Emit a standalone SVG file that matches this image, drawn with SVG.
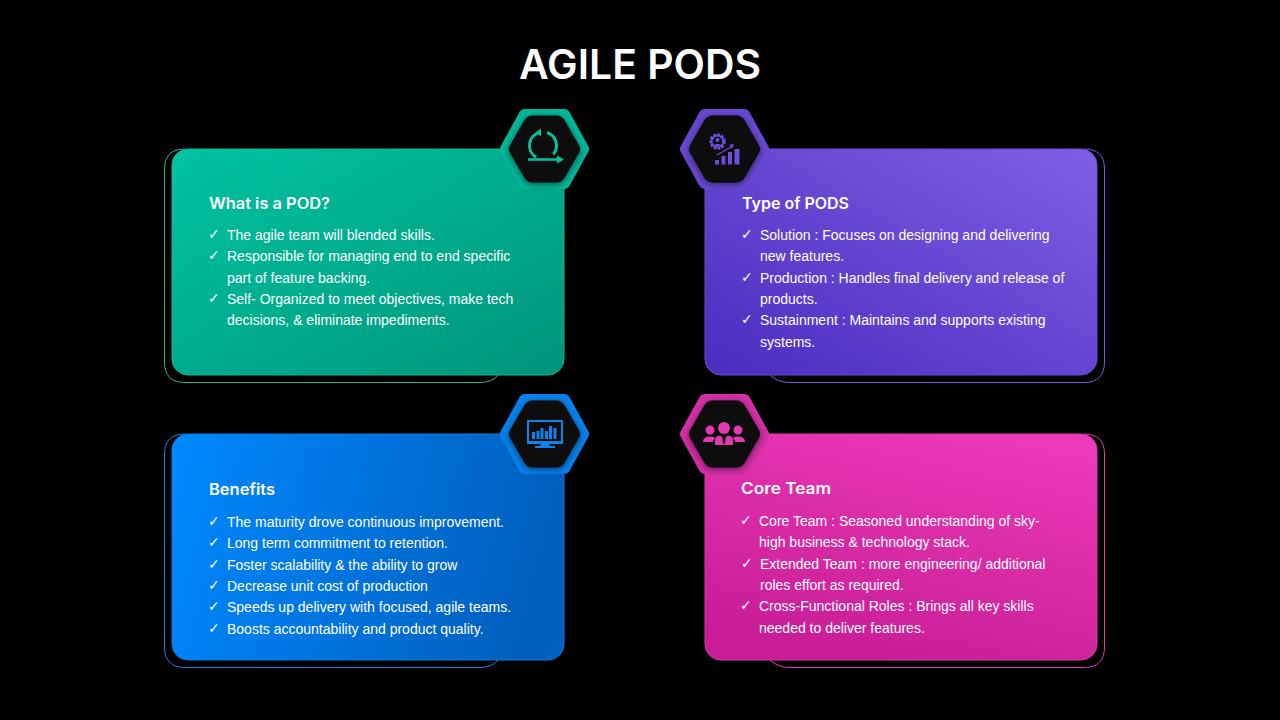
<svg xmlns="http://www.w3.org/2000/svg" width="1280" height="720" viewBox="0 0 1280 720">
<defs>
<linearGradient id="gG" x1="0" y1="0" x2="1" y2="1"><stop offset="0" stop-color="#00c4a0"/><stop offset="1" stop-color="#00957a"/></linearGradient>
<linearGradient id="gP" x1="1" y1="0" x2="0" y2="1"><stop offset="0" stop-color="#7f5fe4"/><stop offset="1" stop-color="#4a2cc0"/></linearGradient>
<linearGradient id="gB" x1="0" y1="0" x2="1" y2="0.15"><stop offset="0" stop-color="#0089ff"/><stop offset="1" stop-color="#005fbe"/></linearGradient>
<linearGradient id="gK" x1="0.8" y1="0" x2="0.4" y2="1"><stop offset="0" stop-color="#ec3ab8"/><stop offset="1" stop-color="#c81d96"/></linearGradient>
<filter id="glow" x="-30%" y="-30%" width="160%" height="160%"><feDropShadow dx="0" dy="2" stdDeviation="3.500" flood-color="#000" flood-opacity="0.5"/></filter>
<path id="hexO" d="M-20,-34.500 H20 L39,0 L20,34.500 H-20 L-39,0 Z" stroke-width="11" stroke-linejoin="round"/>
<path id="hexI" d="M-20,-29 Q-17,-33.500 -12,-33.500 H12 Q17,-33.500 20,-29 L35,-3 Q36.500,0 35,3 L20,29 Q17,33.500 12,33.500 H-12 Q-17,33.500 -20,29 L-35,3 Q-36.500,0 -35,-3 Z"/>
</defs>
<style>
text{font-family:"Liberation Sans",Arial,sans-serif;fill:#fff}
.title{font-family:Inter,"Open Sans",sans-serif;font-size:41px;font-weight:600;text-anchor:middle}
.h{font-family:Inter,"Open Sans",sans-serif;font-size:15.500px;font-weight:600}
.b{font-size:14px}
.c{font-family:"DejaVu Sans",sans-serif;font-size:14px}
.card{stroke-width:1}
.out{fill:none;stroke-width:1}
.hi{fill:#0d0d0d}
</style>
<rect width="1280" height="720" fill="#000"/>
<text class="title" x="640" y="79" textLength="242" lengthAdjust="spacingAndGlyphs">AGILE PODS</text>

<g id="node-pod">
<path class="out" stroke="#26b598" d="M498,375 Q492,382.500 480,382.500 H185 Q164.500,382.500 164.500,362 V169 Q164.500,149 185,149"/>
<rect class="card" x="172" y="149" width="392" height="226" rx="16" fill="url(#gG)" stroke="#12b795"/>
<g transform="translate(544.500,149)"><use href="#hexO" fill="#00b899" stroke="#00b899"/><use href="#hexI" class="hi" filter="url(#glow)"/></g>
<g fill="none" stroke="#00c4a0" stroke-width="3">
<path d="M540.700,132.200 A13.500,13.500 0 0 0 536.200,157.200"/><path d="M547,132.600 A13.500,13.500 0 0 1 553.300,154.200"/>
<path d="M528,159.500 H552" stroke-width="2.500"/><path d="M552,159.500 H560" stroke-width="2.500"/>
</g>
<path d="M541,128.500 L536,132.500 L541,136.500 Z M557,155.500 L564,159.500 L557,163.500 Z" fill="#00c4a0"/>
<text class="h" x="209" y="209" textLength="121" lengthAdjust="spacingAndGlyphs">What is a POD?</text>
<text class="c" x="208" y="239">✓</text><text class="b" x="227" y="240">The agile team will blended skills.</text>
<text class="c" x="208" y="260">✓</text><text class="b" x="227" y="261">Responsible for managing end to end specific</text>
<text class="b" x="227" y="283">part of feature backing.</text>
<text class="c" x="208" y="303">✓</text><text class="b" x="227" y="304">Self- Organized to meet objectives, make tech</text>
<text class="b" x="227" y="325">decisions, &amp; eliminate impediments.</text>
</g>

<g id="node-types">
<path class="out" stroke="#7458de" d="M1084,149 Q1104.500,149 1104.500,169 V362 Q1104.500,382.500 1084,382.500 H790 Q778,382.500 770,375"/>
<rect class="card" x="705" y="149" width="392" height="226" rx="16" fill="url(#gP)" stroke="#6a4cd6"/>
<g transform="translate(724.500,149)"><use href="#hexO" fill="#6848d4" stroke="#6848d4"/><use href="#hexI" class="hi" filter="url(#glow)"/></g>
<g fill="#6d4fdc">
<circle cx="717.500" cy="141.500" r="6.500" fill="none" stroke="#6d4fdc" stroke-width="3.500" stroke-dasharray="2.500 1.200"/>
<circle cx="717.500" cy="141.500" r="6" fill="none" stroke="#6d4fdc" stroke-width="1.500"/>
<circle cx="717.500" cy="140" r="2"/><path d="M713.500,146 Q717.500,141.500 721.500,146 Z"/>
<rect x="715" y="160" width="4" height="4.500"/><rect x="721.500" y="156" width="4" height="8.500"/><rect x="728" y="152" width="4" height="12.500"/><rect x="734.500" y="149" width="5" height="15.500"/>
<path d="M717,155 L733,146" stroke="#6d4fdc" stroke-width="1.200"/><path d="M734,144 L729,145 L732,149 Z"/>
</g>
<text class="h" x="742" y="209" textLength="107" lengthAdjust="spacingAndGlyphs">Type of PODS</text>
<text class="c" x="741" y="239">✓</text><text class="b" x="760" y="240">Solution : Focuses on designing and delivering</text>
<text class="b" x="760" y="261">new features.</text>
<text class="c" x="741" y="282">✓</text><text class="b" x="760" y="283">Production : Handles final delivery and release of</text>
<text class="b" x="760" y="304">products.</text>
<text class="c" x="741" y="324">✓</text><text class="b" x="760" y="325">Sustainment : Maintains and supports existing</text>
<text class="b" x="760" y="347">systems.</text>
</g>

<g id="node-benefits">
<path class="out" stroke="#1a80e0" d="M498,660 Q492,667.500 480,667.500 H185 Q164.500,667.500 164.500,647 V454 Q164.500,434 185,434"/>
<rect class="card" x="172" y="434" width="392" height="226" rx="16" fill="url(#gB)" stroke="#0a7de0"/>
<g transform="translate(544.500,434)"><use href="#hexO" fill="#0782f0" stroke="#0782f0"/><use href="#hexI" class="hi" filter="url(#glow)"/></g>
<g fill="#0c84f0">
<path fill-rule="evenodd" d="M527,420 H563 V444 H527 Z M529,422 V441 H561 V422 Z"/>
<path d="M541,444 H549 L550,446 H555 V448 H535 V446 H540 Z"/>
<rect x="532" y="432" width="3" height="7"/><rect x="536.500" y="431" width="3" height="8"/><rect x="540.500" y="428" width="3" height="11"/><rect x="545" y="431" width="3" height="8"/><rect x="549" y="426" width="3" height="13"/><rect x="553.500" y="428" width="3" height="11"/>
</g>
<text class="h" x="209" y="495" textLength="66" lengthAdjust="spacingAndGlyphs">Benefits</text>
<text class="c" x="208" y="526">✓</text><text class="b" x="227" y="527">The maturity drove continuous improvement.</text>
<text class="c" x="208" y="547">✓</text><text class="b" x="227" y="548">Long term commitment to retention.</text>
<text class="c" x="208" y="569">✓</text><text class="b" x="227" y="570">Foster scalability &amp; the ability to grow</text>
<text class="c" x="208" y="590">✓</text><text class="b" x="227" y="591">Decrease unit cost of production</text>
<text class="c" x="208" y="611">✓</text><text class="b" x="227" y="612">Speeds up delivery with focused, agile teams.</text>
<text class="c" x="208" y="633">✓</text><text class="b" x="227" y="634">Boosts accountability and product quality.</text>
</g>

<g id="node-core">
<path class="out" stroke="#e03ab4" d="M1084,434 Q1104.500,434 1104.500,454 V647 Q1104.500,667.500 1084,667.500 H790 Q778,667.500 770,660"/>
<rect class="card" x="705" y="434" width="392" height="226" rx="16" fill="url(#gK)" stroke="#e236b0"/>
<g transform="translate(724.500,434)"><use href="#hexO" fill="#d42fa8" stroke="#d42fa8"/><use href="#hexI" class="hi" filter="url(#glow)"/></g>
<g fill="#e238b2">
<circle cx="710" cy="430" r="4.500"/><path d="M703,442 Q703,436.500 710,436.500 Q714,436.500 715.500,438 Q713,440 712.500,442 Z"/>
<circle cx="738" cy="430" r="4.500"/><path d="M745,442 Q745,436.500 738,436.500 Q734,436.500 732.500,438 Q735,440 735.500,442 Z"/>
<circle cx="724" cy="428" r="6"/>
<path d="M715,445 V440 Q715,436 720,435.500 L722.500,437.500 L722.500,441 L724,445 L725.500,441 L725.500,437.500 L728,435.500 Q733,436 733,440 V445 Z"/>
</g>
<text class="h" x="741" y="494" textLength="90" lengthAdjust="spacingAndGlyphs">Core Team</text>
<text class="c" x="740" y="525">✓</text><text class="b" x="759" y="526">Core Team : Seasoned understanding of sky-</text>
<text class="b" x="759" y="547">high business &amp; technology stack.</text>
<text class="c" x="741" y="568">✓</text><text class="b" x="760" y="569">Extended Team : more engineering/ additional</text>
<text class="b" x="760" y="590">roles effort as required.</text>
<text class="c" x="740" y="610">✓</text><text class="b" x="759" y="611">Cross-Functional Roles : Brings all key skills</text>
<text class="b" x="759" y="633">needed to deliver features.</text>
</g>
<g id="connectors"/>
</svg>
